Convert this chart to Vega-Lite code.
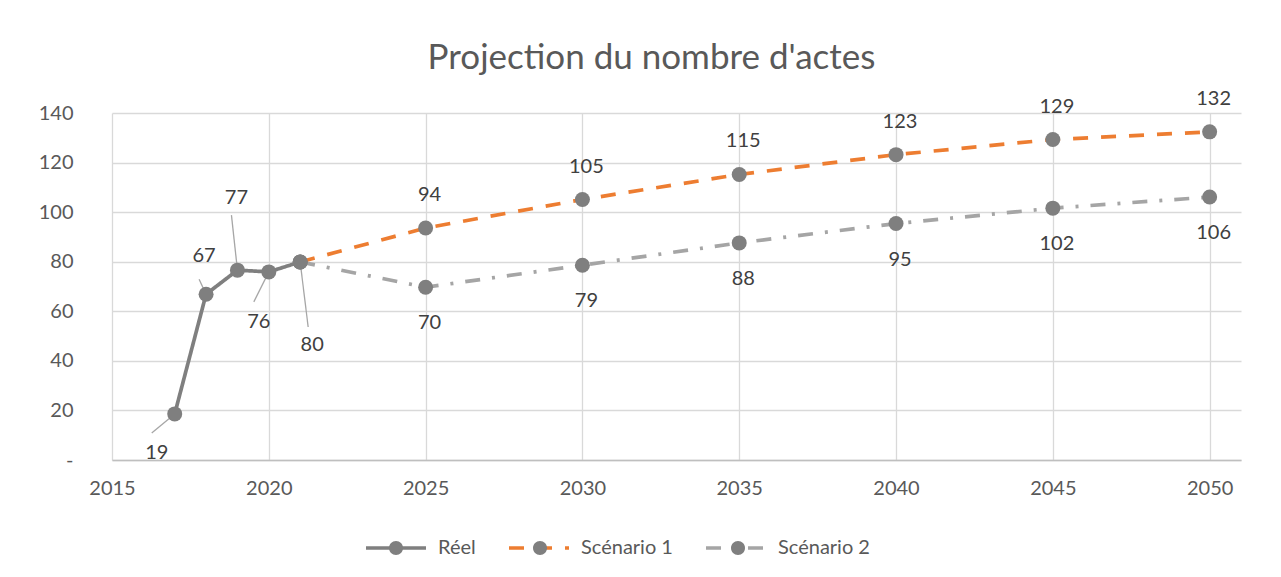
{
  "$schema": "https://vega.github.io/schema/vega-lite/v6.json",
  "width": 1129,
  "height": 347,
  "autosize": {"type": "none"},
  "padding": {"left": 112, "top": 113, "right": 40, "bottom": 117},
  "background": "white",
  "config": {
    "font": "Lato",
    "view": {"stroke": null},
    "axis": {"labelFont": "Lato", "labelFontSize": 20, "labelColor": "#595959", "gridColor": "#d9d9d9", "gridWidth": 1.3, "ticks": false, "title": null},
    "legend": {"labelFont": "Lato", "labelFontSize": 20, "labelLimit": 300}
  },
  "title": {
    "text": "Projection du nombre d'actes",
    "font": "Lato",
    "fontSize": 35,
    "fontWeight": "normal",
    "color": "#595959",
    "anchor": "middle",
    "frame": "group",
    "dx": -25,
    "offset": 13
  },
  "data": {
    "values": [
      {"series": "Réel", "year": 2017, "value": 18.6},
      {"series": "Réel", "year": 2018, "value": 66.9},
      {"series": "Réel", "year": 2019, "value": 76.6},
      {"series": "Réel", "year": 2020, "value": 75.9},
      {"series": "Réel", "year": 2021, "value": 79.9},
      {"series": "Scénario 1", "year": 2021, "value": 79.9},
      {"series": "Scénario 1", "year": 2025, "value": 93.6},
      {"series": "Scénario 1", "year": 2030, "value": 105.1},
      {"series": "Scénario 1", "year": 2035, "value": 115.2},
      {"series": "Scénario 1", "year": 2040, "value": 123.2},
      {"series": "Scénario 1", "year": 2045, "value": 129.3},
      {"series": "Scénario 1", "year": 2050, "value": 132.4},
      {"series": "Scénario 2", "year": 2021, "value": 79.9},
      {"series": "Scénario 2", "year": 2025, "value": 69.7},
      {"series": "Scénario 2", "year": 2030, "value": 78.6},
      {"series": "Scénario 2", "year": 2035, "value": 87.6},
      {"series": "Scénario 2", "year": 2040, "value": 95.4},
      {"series": "Scénario 2", "year": 2045, "value": 101.6},
      {"series": "Scénario 2", "year": 2050, "value": 106.1}
    ]
  },
  "encoding": {
    "x": {
      "field": "year", "type": "quantitative",
      "scale": {"domain": [2015, 2051], "nice": false, "zero": false},
      "axis": {"values": [2015, 2020, 2025, 2030, 2035, 2040, 2045, 2050], "format": "d", "domainColor": "#bfbfbf", "domainWidth": 1.5, "labelPadding": 18, "labelFlush": false}
    },
    "y": {
      "field": "value", "type": "quantitative",
      "scale": {"domain": [0, 140], "nice": false},
      "axis": {"values": [0, 20, 40, 60, 80, 100, 120, 140], "domain": false, "labelPadding": 39, "labelExpr": "datum.value === 0 ? '-' : datum.label"}
    }
  },
  "layer": [
    {
      "mark": {"type": "line", "strokeWidth": 3.7, "strokeCap": "butt"},
      "encoding": {
        "color": {
          "field": "series", "type": "nominal",
          "scale": {"domain": ["Réel", "Scénario 1", "Scénario 2"], "range": ["#7f7f7f", "#ed7d31", "#a5a5a5"]},
          "legend": {"orient": "none", "legendX": 252, "legendY": 403, "direction": "horizontal", "columns": 3, "title": null, "symbolType": "stroke", "symbolSize": 3600, "symbolStrokeWidth": 3.5, "labelColor": "#595959", "labelOffset": 10, "columnPadding": 26, "padding": 0}
        },
        "strokeDash": {
          "field": "series", "type": "nominal",
          "scale": {"domain": ["Réel", "Scénario 1", "Scénario 2"], "range": [[1, 0], [15, 13], [15, 12, 3, 12]]},
          "legend": {"orient": "none", "legendX": 252, "legendY": 403, "direction": "horizontal", "columns": 3, "title": null, "symbolType": "stroke", "symbolSize": 3600, "symbolStrokeWidth": 3.5, "labelColor": "#595959", "labelOffset": 10, "columnPadding": 26, "padding": 0}
        }
      }
    },
    {
      "transform": [{"filter": "datum.series === 'Réel' && datum.year === 2017"}],
      "mark": {"type": "rule", "color": "#a6a6a6", "strokeWidth": 1.3, "x2Offset": -23, "y2Offset": 19},
      "encoding": {"x2": {"field": "year"}, "y2": {"field": "value"}}
    },
    {
      "transform": [{"filter": "datum.series === 'Réel' && datum.year === 2018"}],
      "mark": {"type": "rule", "color": "#a6a6a6", "strokeWidth": 1.3, "x2Offset": -7, "y2Offset": -15},
      "encoding": {"x2": {"field": "year"}, "y2": {"field": "value"}}
    },
    {
      "transform": [{"filter": "datum.series === 'Réel' && datum.year === 2019"}],
      "mark": {"type": "rule", "color": "#a6a6a6", "strokeWidth": 1.3, "x2Offset": -6, "y2Offset": -55},
      "encoding": {"x2": {"field": "year"}, "y2": {"field": "value"}}
    },
    {
      "transform": [{"filter": "datum.series === 'Réel' && datum.year === 2020"}],
      "mark": {"type": "rule", "color": "#a6a6a6", "strokeWidth": 1.3, "x2Offset": -15, "y2Offset": 30},
      "encoding": {"x2": {"field": "year"}, "y2": {"field": "value"}}
    },
    {
      "transform": [{"filter": "datum.series === 'Réel' && datum.year === 2021"}],
      "mark": {"type": "rule", "color": "#a6a6a6", "strokeWidth": 1.3, "x2Offset": 8, "y2Offset": 65},
      "encoding": {"x2": {"field": "year"}, "y2": {"field": "value"}}
    },
    {
      "mark": {"type": "point", "filled": true, "size": 225, "color": "#7f7f7f"},
      "encoding": {
        "opacity": {
          "field": "series", "type": "nominal",
          "scale": {"range": [1, 1, 1]},
          "legend": {
            "orient": "none", "legendX": 252, "legendY": 403, "direction": "horizontal", "columns": 3, "title": null,
            "symbolType": "M 0.2333 0 A 0.2333 0.2333 0 1 1 -0.2333 0 A 0.2333 0.2333 0 1 1 0.2333 0 Z",
            "symbolSize": 3600, "labelColor": "rgba(255,255,255,0)", "labelOffset": 10, "columnPadding": 32, "padding": 0,
            "symbolFillColor": "#7f7f7f", "symbolStrokeColor": "#7f7f7f", "symbolStrokeWidth": 3.5
          }
        }
      }
    },
    {
      "transform": [{"filter": "datum.series === 'Scénario 1' && datum.year > 2021"}],
      "mark": {"type": "text", "font": "Lato", "fontSize": 20, "color": "#404040", "align": "center", "baseline": "middle", "dx": 4, "dy": -33},
      "encoding": {"text": {"field": "value", "type": "quantitative", "format": ".0f"}}
    },
    {
      "transform": [{"filter": "datum.series === 'Scénario 2' && datum.year > 2021"}],
      "mark": {"type": "text", "font": "Lato", "fontSize": 20, "color": "#404040", "align": "center", "baseline": "middle", "dx": 4, "dy": 36},
      "encoding": {"text": {"field": "value", "type": "quantitative", "format": ".0f"}}
    },
    {
      "transform": [{"filter": "datum.series === 'Réel' && datum.year === 2017"}],
      "mark": {"type": "text", "font": "Lato", "fontSize": 20, "color": "#404040", "align": "center", "baseline": "middle", "dx": -18, "dy": 39},
      "encoding": {"text": {"field": "value", "type": "quantitative", "format": ".0f"}}
    },
    {
      "transform": [{"filter": "datum.series === 'Réel' && datum.year === 2018"}],
      "mark": {"type": "text", "font": "Lato", "fontSize": 20, "color": "#404040", "align": "center", "baseline": "middle", "dx": -2, "dy": -38},
      "encoding": {"text": {"field": "value", "type": "quantitative", "format": ".0f"}}
    },
    {
      "transform": [{"filter": "datum.series === 'Réel' && datum.year === 2019"}],
      "mark": {"type": "text", "font": "Lato", "fontSize": 20, "color": "#404040", "align": "center", "baseline": "middle", "dx": -1, "dy": -72},
      "encoding": {"text": {"field": "value", "type": "quantitative", "format": ".0f"}}
    },
    {
      "transform": [{"filter": "datum.series === 'Réel' && datum.year === 2020"}],
      "mark": {"type": "text", "font": "Lato", "fontSize": 20, "color": "#404040", "align": "center", "baseline": "middle", "dx": -10, "dy": 50},
      "encoding": {"text": {"field": "value", "type": "quantitative", "format": ".0f"}}
    },
    {
      "transform": [{"filter": "datum.series === 'Réel' && datum.year === 2021"}],
      "mark": {"type": "text", "font": "Lato", "fontSize": 20, "color": "#404040", "align": "center", "baseline": "middle", "dx": 12, "dy": 83},
      "encoding": {"text": {"field": "value", "type": "quantitative", "format": ".0f"}}
    }
  ]
}
